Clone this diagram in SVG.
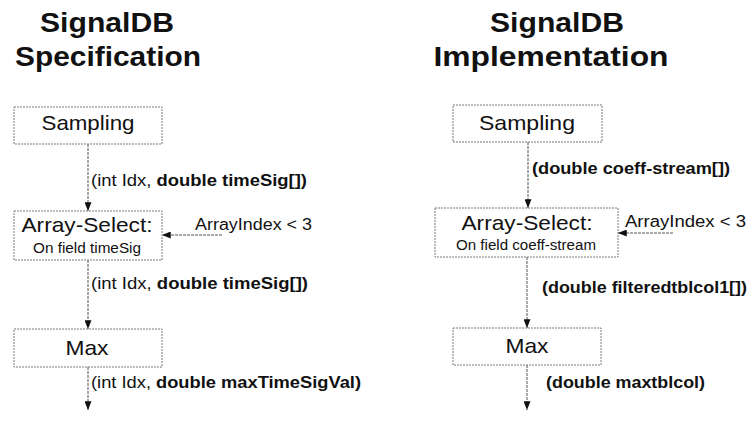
<svg xmlns="http://www.w3.org/2000/svg" width="753" height="434" viewBox="0 0 753 434">
  <style>
    text { font-family: "Liberation Sans", Arial, sans-serif; fill: #111; }
    .title { font-size: 28px; font-weight: bold; text-anchor: middle; }
    .box { fill: #fff; stroke: #7a7a7a; stroke-width: 1; stroke-dasharray: 2 1; }
    .name { font-size: 21px; text-anchor: middle; }
    .sub { font-size: 14px; text-anchor: middle; }
    .lbl { font-size: 16px; }
    .b { font-weight: bold; }
    .wire { stroke: #555; stroke-width: 1; stroke-dasharray: 3 1; fill: none; marker-end: url(#tip); }
  </style>
  <defs>
    <marker id="tip" viewBox="0 0 10 8" refX="10" refY="4" markerWidth="9" markerHeight="7" orient="auto" markerUnits="userSpaceOnUse">
      <path d="M0,0 L10,4 L0,8 Z" fill="#111"/>
    </marker>
  </defs>
  <rect width="753" height="434" fill="#fff"/>

  <!-- column headings -->
  <g id="spec-title">
    <text class="title" x="107" y="32" textLength="134" lengthAdjust="spacingAndGlyphs">SignalDB</text>
    <text class="title" x="108" y="66" textLength="186" lengthAdjust="spacingAndGlyphs">Specification</text>
  </g>
  <g id="impl-title">
    <text class="title" x="557" y="32" textLength="134" lengthAdjust="spacingAndGlyphs">SignalDB</text>
    <text class="title" x="551" y="66" textLength="235" lengthAdjust="spacingAndGlyphs">Implementation</text>
  </g>

  <!-- connectors -->
  <g id="connectors">
    <line class="wire" x1="88" y1="144" x2="88" y2="211"/>
    <line class="wire" x1="222" y1="235" x2="162" y2="235"/>
    <line class="wire" x1="88" y1="260" x2="88" y2="329"/>
    <line class="wire" x1="88" y1="367" x2="88" y2="410"/>

    <line class="wire" x1="528" y1="142" x2="528" y2="208"/>
    <line class="wire" x1="673" y1="233" x2="618" y2="233"/>
    <line class="wire" x1="527" y1="257" x2="527" y2="328"/>
    <line class="wire" x1="527" y1="365" x2="527" y2="410"/>

    <text class="lbl" x="91" y="186" textLength="216" lengthAdjust="spacingAndGlyphs">(int Idx, <tspan class="b">double timeSig[])</tspan></text>
    <text class="lbl" x="195" y="230" textLength="117" lengthAdjust="spacingAndGlyphs">ArrayIndex &lt; 3</text>
    <text class="lbl" x="91" y="289" textLength="217" lengthAdjust="spacingAndGlyphs">(int Idx, <tspan class="b">double timeSig[])</tspan></text>
    <text class="lbl" x="91" y="388" textLength="270" lengthAdjust="spacingAndGlyphs">(int Idx, <tspan class="b">double maxTimeSigVal)</tspan></text>

    <text class="lbl b" x="532" y="174" textLength="198" lengthAdjust="spacingAndGlyphs">(double coeff-stream[])</text>
    <text class="lbl" x="625" y="227" textLength="121" lengthAdjust="spacingAndGlyphs">ArrayIndex &lt; 3</text>
    <text class="lbl b" x="542" y="293" textLength="205" lengthAdjust="spacingAndGlyphs">(double filteredtblcol1[])</text>
    <text class="lbl b" x="546" y="388" textLength="159" lengthAdjust="spacingAndGlyphs">(double maxtblcol)</text>
  </g>

  <!-- specification pipeline -->
  <g id="spec-sampling">
    <rect class="box" x="14" y="107" width="148" height="37"/>
    <text class="name" x="88" y="130" textLength="93" lengthAdjust="spacingAndGlyphs">Sampling</text>
  </g>
  <g id="spec-array-select">
    <rect class="box" x="14" y="211" width="148" height="49"/>
    <text class="name" x="87" y="232" textLength="131" lengthAdjust="spacingAndGlyphs">Array-Select:</text>
    <text class="sub" x="87" y="253" textLength="108" lengthAdjust="spacingAndGlyphs">On field timeSig</text>
  </g>
  <g id="spec-max">
    <rect class="box" x="14" y="329" width="148" height="38"/>
    <text class="name" x="87" y="355" textLength="43" lengthAdjust="spacingAndGlyphs">Max</text>
  </g>

  <!-- implementation pipeline -->
  <g id="impl-sampling">
    <rect class="box" x="453" y="105" width="149" height="37"/>
    <text class="name" x="527" y="130" textLength="96" lengthAdjust="spacingAndGlyphs">Sampling</text>
  </g>
  <g id="impl-array-select">
    <rect class="box" x="435" y="208" width="183" height="49"/>
    <text class="name" x="527" y="230" textLength="131" lengthAdjust="spacingAndGlyphs">Array-Select:</text>
    <text class="sub" x="526" y="250" textLength="140" lengthAdjust="spacingAndGlyphs">On field coeff-stream</text>
  </g>
  <g id="impl-max">
    <rect class="box" x="453" y="328" width="148" height="37"/>
    <text class="name" x="527" y="353" textLength="43" lengthAdjust="spacingAndGlyphs">Max</text>
  </g>
</svg>
